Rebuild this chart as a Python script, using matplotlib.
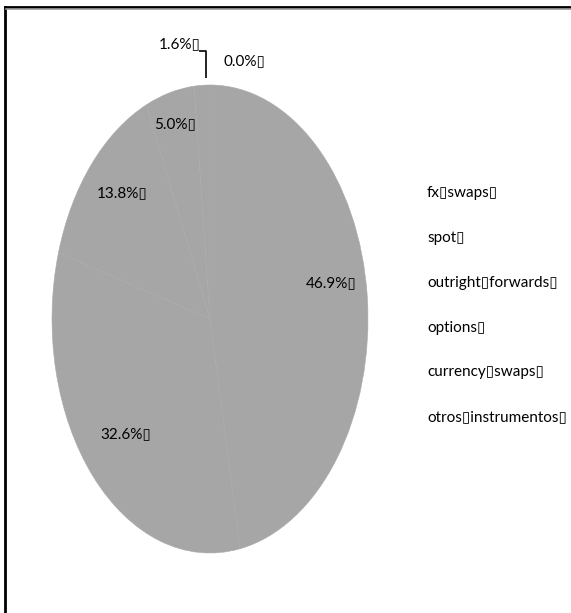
import numpy as np
import matplotlib
matplotlib.use("Agg")
import matplotlib.pyplot as plt
from matplotlib.lines import Line2D

BOX = "\u25af"  # placeholder glyph shown where the source text had unrenderable characters

categories = ["fx swaps", "spot", "outright forwards", "options",
              "currency swaps", "otros instrumentos"]
shares = [46.9, 32.6, 13.8, 5.0, 1.6, 0.0]

FONT = ["Lato", "DejaVu Sans"]
plt.rcParams["font.family"] = FONT
FS = 11

W, H = 571, 613
fig = plt.figure(figsize=(W / 100, H / 100), dpi=100)

# pie drawn as an ellipse: stretch unit circle into the axes box
cx, cy, rx, ry = 210, 319, 158, 234
ax = fig.add_axes([(cx - rx) / W, (H - cy - ry) / H, 2 * rx / W, 2 * ry / H])
wedges, _ = ax.pie(shares, startangle=90, counterclock=False, radius=1,
                   colors=["#a6a6a6"] * len(shares),
                   wedgeprops=dict(edgecolor="#aaaaaa", linewidth=0.4))
ax.set_xlim(-1, 1)
ax.set_ylim(-1, 1)
ax.set_aspect("auto")
ax.axis("off")

# inside labels for the larger wedges (radial distance, vertical nudge)
inner_dist = [0.77, 0.72, 0.74, 0.86]
inner_dy = [0.08, -0.01, 0.05, 0.0]
for w, v, d, dy in zip(wedges[:4], shares[:4], inner_dist, inner_dy):
    mid = np.deg2rad((w.theta1 + w.theta2) / 2)
    ax.text(d * np.cos(mid), d * np.sin(mid) + dy, f"{v:.1f}%{BOX}",
            ha="center", va="center", fontsize=FS, color="#000000")

# small wedges: labels outside with a leader line
w5 = wedges[4]
mid5 = np.deg2rad((w5.theta1 + w5.theta2) / 2)
x0 = np.cos(mid5) * 0.55
ax.plot([x0, x0, x0 - 0.045], [1.03, 1.145, 1.145], color="#000000",
        lw=1.2, clip_on=False, solid_capstyle="butt")
ax.text(x0 - 0.03, 1.145, f"{shares[4]:.1f}%{BOX}", ha="right", va="bottom",
        fontsize=FS)
ax.text(x0 + 0.11, 1.10, f"{shares[5]:.1f}%{BOX}", ha="left", va="center",
        fontsize=FS)

# legend: text entries only
leg_labels = [c.replace(" ", BOX) + BOX for c in categories]
leg = fig.legend(wedges, leg_labels, loc="upper left",
                 bbox_to_anchor=(427 / W, 1 - 186 / H), frameon=False,
                 handlelength=0, handletextpad=0, fontsize=FS,
                 labelspacing=2.02, borderaxespad=0, borderpad=0)
for h in leg.legend_handles:
    h.set_visible(False)

# outer frame: top and left edges
fig.add_artist(Line2D([4.5 / W, 1], [1 - 6.5 / H, 1 - 6.5 / H],
                      transform=fig.transFigure, color="#000000", lw=2))
fig.add_artist(Line2D([4.5 / W, 4.5 / W], [0, 1 - 6.5 / H],
                      transform=fig.transFigure, color="#000000", lw=2))
fig.add_artist(Line2D([6 / W, 1], [1 - 9 / H, 1 - 9 / H],
                      transform=fig.transFigure, color="#9a9a9a", lw=1.2))

fig.savefig("out.png", dpi=100, facecolor="white")
